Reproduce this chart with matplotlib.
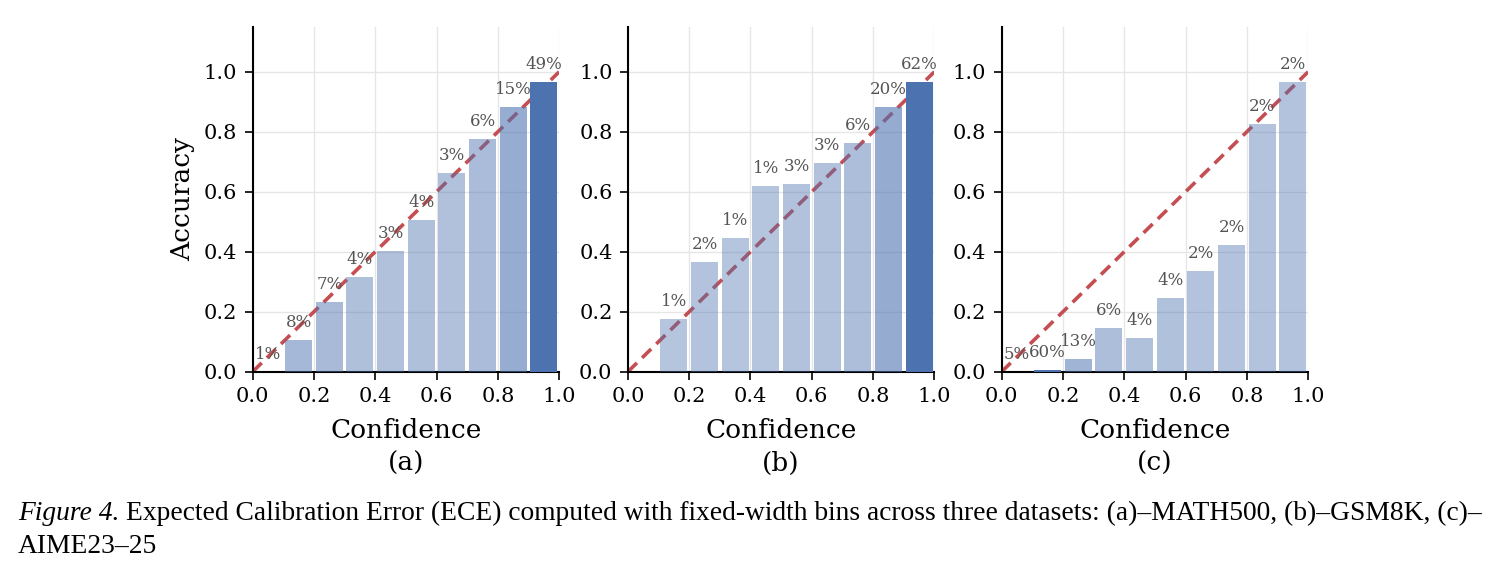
import numpy as np
import matplotlib
matplotlib.use("Agg")
import matplotlib.pyplot as plt

# bin centers and per-bin accuracy / share of samples (%)
bin_centers = [0.05, 0.15, 0.25, 0.35, 0.45, 0.55, 0.65, 0.75, 0.85, 0.95]

acc_math500 = [0.0, 0.106, 0.234, 0.315, 0.404, 0.505, 0.664, 0.777, 0.884, 0.965]
pct_math500 = [1, 8, 7, 4, 3, 4, 3, 6, 15, 49]

acc_gsm8k = [0.0, 0.175, 0.366, 0.447, 0.618, 0.626, 0.695, 0.764, 0.884, 0.965]
pct_gsm8k = [0, 1, 2, 1, 1, 3, 3, 6, 20, 62]

acc_aime = [0.0, 0.006, 0.044, 0.145, 0.114, 0.246, 0.335, 0.423, 0.827, 0.966]
pct_aime = [5, 60, 13, 6, 4, 4, 2, 2, 2, 2]

panels = [(acc_math500, pct_math500, "(a)"),
          (acc_gsm8k, pct_gsm8k, "(b)"),
          (acc_aime, pct_aime, "(c)")]

plt.rcParams["font.family"] = "DejaVu Serif"

fig = plt.figure(figsize=(14.95, 5.71), dpi=100)
lefts = [0.169, 0.420, 0.670]
blue = "#4C72B0"
red = "#C44E52"

for i, (acc, pct, tag) in enumerate(panels):
    ax = fig.add_axes([lefts[i], 0.349, 0.205, 0.604])
    ax.set_axisbelow(True)
    ax.grid(True, color="#e6e6e6", linewidth=1)
    ax.plot([0, 1], [0, 1], linestyle="--", color=red, linewidth=2.6,
            dashes=(3.5, 2), zorder=2)
    mx = max(pct)
    for c, a, p in zip(bin_centers, acc, pct):
        if p == 0:
            continue
        alpha = 0.4 + 0.6 * p / mx
        ax.bar(c, a, width=0.088, color=blue, alpha=alpha,
               linewidth=0, zorder=3)
        ax.text(c, a + 0.03, f"{p}%", ha="center", va="bottom",
                fontsize=12, color="#555555", zorder=4)
    ax.set_xlim(0, 1)
    ax.set_ylim(0, 1.15)
    ax.set_xticks(np.arange(0, 1.01, 0.2))
    ax.set_yticks(np.arange(0, 1.01, 0.2))
    ax.tick_params(labelsize=15, length=6, width=1.2, pad=5)
    for s in ["top", "right"]:
        ax.spines[s].set_visible(False)
    for s in ["left", "bottom"]:
        ax.spines[s].set_linewidth(1.5)
    ax.set_xlabel("Confidence\n" + tag, fontsize=19, linespacing=1.35, labelpad=9)
    if i == 0:
        ax.set_ylabel("Accuracy", fontsize=19, labelpad=6)

# caption
fig.canvas.draw()
r = fig.canvas.get_renderer()
cap_size = 19.8
t1 = fig.text(0.012, 0.09, "Figure 4.", fontsize=cap_size, family="Liberation Serif",
              style="italic", va="baseline")
bb = t1.get_window_extent(r)
x2 = (bb.x1 + 7) / fig.bbox.width
fig.text(x2, 0.09, "Expected Calibration Error (ECE) computed with fixed-width bins across three datasets: "
         "(a)\u2013MATH500, (b)\u2013GSM8K, (c)\u2013",
         fontsize=cap_size, family="Liberation Serif", va="baseline")
fig.text(0.012, 0.032, "AIME23\u201325", fontsize=cap_size, family="Liberation Serif", va="baseline")

fig.savefig("out.png", dpi=100)
